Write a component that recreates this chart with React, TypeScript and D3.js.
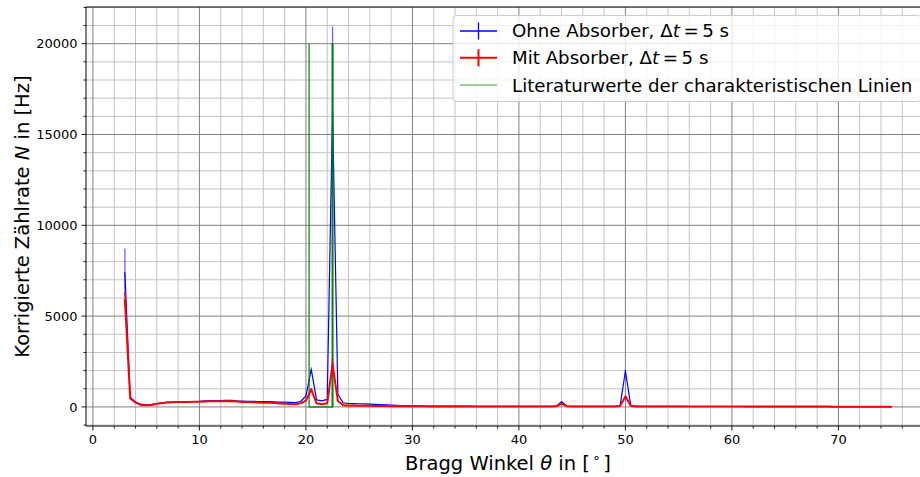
import React from 'react';
import * as d3 from 'd3';

// Measurement grid: Bragg angles in degrees
const angles: number[] = d3.range(3, 75.25, 0.5);

// Corrected count rate without absorber (Hz)
const ohneAbsorber: number[] = [
  7420, 530, 270, 150, 120, 140, 190, 230, 260, 270,
  280, 285, 290, 300, 310, 330, 350, 355, 350, 360,
  360, 335, 320, 310, 305, 300, 295, 290, 280, 270,
  260, 250, 240, 300, 600, 2070, 385, 330, 420, 16300,
  700, 220, 190, 185, 175, 165, 155, 145, 130, 118,
  105, 92, 80, 70, 60, 55, 52, 50, 48, 46,
  45, 44, 42, 41, 40, 39, 38, 37, 36, 36,
  35, 35, 34, 34, 33, 33, 32, 32, 31, 31,
  32, 45, 290, 50, 32, 30, 30, 29, 29, 28,
  28, 28, 30, 60, 1980, 85, 35, 30, 28, 28,
  27, 27, 27, 26, 26, 26, 25, 25, 25, 24,
  24, 24, 24, 23, 23, 23, 23, 22, 22, 22,
  22, 22, 21, 21, 21, 21, 21, 20, 20, 20,
  20, 20, 20, 19, 19, 19, 19, 19, 19, 18,
  18, 18, 18, 18, 18,
];

// Corrected count rate with absorber (Hz)
const mitAbsorber: number[] = [
  5950, 460, 240, 110, 90, 105, 170, 210, 245, 255,
  265, 270, 275, 280, 290, 300, 310, 315, 310, 315,
  320, 295, 275, 265, 255, 245, 235, 225, 210, 195,
  180, 165, 150, 200, 350, 970, 200, 150, 200, 2350,
  330, 90, 80, 75, 70, 65, 60, 55, 50, 46,
  42, 40, 37, 35, 33, 32, 31, 30, 30, 29,
  29, 28, 28, 28, 27, 27, 27, 26, 26, 26,
  26, 25, 25, 25, 25, 24, 24, 24, 24, 24,
  25, 35, 180, 40, 24, 23, 23, 23, 23, 22,
  22, 22, 24, 45, 570, 60, 26, 23, 22, 22,
  22, 21, 21, 21, 21, 21, 20, 20, 20, 20,
  20, 20, 19, 19, 19, 19, 19, 19, 18, 18,
  18, 18, 18, 18, 18, 17, 17, 17, 17, 17,
  17, 17, 17, 16, 16, 16, 16, 16, 16, 16,
  16, 16, 16, 15, 15,
];

// Visible error bars
const errAngles: number[] = [3, 20.5, 22.5, 44, 50];
const ohneErr: number[] = [1300, 120, 4650, 40, 90];
const mitErr: number[] = [400, 70, 330, 25, 40];

// Literature values of characteristic lines (Cu K-beta, K-alpha)
const litAngles: number[] = [20.3, 22.5];
const litHeight = 20000;

const xTicks: number[] = [0, 10, 20, 30, 40, 50, 60, 70];
const yTicks: number[] = [0, 5000, 10000, 15000, 20000];
const xMinor: number[] = d3.range(0, 80, 2);
const yMinor: number[] = d3.range(-1000, 22001, 1000);

const W = 920;
const H = 477;
const L = 86, R = 930, T = 7, B = 426;

const x = d3.scaleLinear().domain([-0.65, 78.6]).range([L, R]);
const y = d3.scaleLinear().domain([-1050, 22020]).range([B, T]);

const FONT = 'DejaVu Sans, sans-serif';

export default function App() {
  const line = d3
    .line<number>()
    .x((_, i) => x(angles[i]))
    .y((d) => y(d));

  const litPath = d3.line<[number, number]>().x((d) => x(d[0])).y((d) => y(d[1]))([
    [litAngles[0], litHeight],
    [litAngles[0], 0],
    [litAngles[1], 0],
    [litAngles[1], litHeight],
  ]) as string;

  const valAt = (arr: number[], a: number) => arr[Math.round((a - 3) * 2)];

  const legendRows = [
    { color: '#0000ff', lw: 1.3, err: true, yc: 31 },
    { color: '#ff0000', lw: 2, err: true, yc: 57.8 },
    { color: '#008000', lw: 1.5, err: false, yc: 85, op: 0.5 },
  ];

  return (
    <svg
      width={W}
      height={H}
      style={{ position: 'absolute', left: 0, top: 0, background: '#fff' }}
      fontFamily={FONT}
    >
      <rect x={0} y={0} width={W} height={H} fill="#fff" />
      <defs>
        <clipPath id="plotclip">
          <rect x={L} y={T} width={R - L} height={B - T} />
        </clipPath>
      </defs>

      {/* minor grid */}
      <g stroke="#c4c4c4" strokeWidth={1}>
        {xMinor.filter((v) => v % 10 !== 0).map((v) => (
          <line key={'xm' + v} x1={x(v)} x2={x(v)} y1={T} y2={B} />
        ))}
        {yMinor.filter((v) => v % 5000 !== 0).map((v) => (
          <line key={'ym' + v} x1={L} x2={R} y1={y(v)} y2={y(v)} />
        ))}
      </g>
      {/* major grid */}
      <g stroke="#808080" strokeWidth={1}>
        {xTicks.map((v) => (
          <line key={'xg' + v} x1={x(v)} x2={x(v)} y1={T} y2={B} />
        ))}
        {yTicks.map((v) => (
          <line key={'yg' + v} x1={L} x2={R} y1={y(v)} y2={y(v)} />
        ))}
      </g>

      <g clipPath="url(#plotclip)">
        {/* blue series */}
        <path d={line(ohneAbsorber) as string} fill="none" stroke="#0000ff" strokeWidth={1.2} strokeLinejoin="round" />
        {errAngles.map((a, i) => {
          const v = valAt(ohneAbsorber, a);
          return (
            <line key={'be' + a} x1={x(a)} x2={x(a)} y1={y(v - ohneErr[i])} y2={y(v + ohneErr[i])}
              stroke="#0000ff" strokeOpacity={0.6} strokeWidth={1.3} />
          );
        })}
        {/* literature lines */}
        <path d={litPath} fill="none" stroke="#008000" strokeOpacity={0.85} strokeWidth={1.4} />
        <line x1={x(litAngles[1])} x2={x(litAngles[1])} y1={y(0)} y2={y(litHeight)} stroke="#008000" strokeOpacity={0.8} strokeWidth={2} />
        {/* red series */}
        <path d={line(mitAbsorber) as string} fill="none" stroke="#ff0000" strokeWidth={2} strokeLinejoin="round" />
        {errAngles.map((a, i) => {
          const v = valAt(mitAbsorber, a);
          return (
            <line key={'re' + a} x1={x(a)} x2={x(a)} y1={y(v - mitErr[i])} y2={y(v + mitErr[i])}
              stroke="#ff0000" strokeOpacity={0.6} strokeWidth={2} />
          );
        })}
      </g>

      {/* spines */}
      <g stroke="#000" strokeWidth={1} fill="none">
        <line x1={L} x2={L} y1={T} y2={B} />
        <line x1={L} x2={R} y1={B} y2={B} />
        <line x1={L} x2={R} y1={T} y2={T} />
        <line x1={R} x2={R} y1={T} y2={B} />
      </g>

      {/* ticks */}
      <g stroke="#000" strokeWidth={0.9}>
        {xTicks.map((v) => (
          <line key={'xt' + v} x1={x(v)} x2={x(v)} y1={B} y2={B + 4.5} />
        ))}
        {xMinor.filter((v) => v % 10 !== 0).map((v) => (
          <line key={'xtm' + v} x1={x(v)} x2={x(v)} y1={B} y2={B + 2.5} />
        ))}
        {yTicks.map((v) => (
          <line key={'yt' + v} x1={L - 4.5} x2={L} y1={y(v)} y2={y(v)} />
        ))}
        {yMinor.filter((v) => v % 5000 !== 0).map((v) => (
          <line key={'ytm' + v} x1={L - 2.5} x2={L} y1={y(v)} y2={y(v)} />
        ))}
      </g>

      {/* tick labels */}
      <g fontSize={13} fill="#000">
        {xTicks.map((v) => (
          <text key={'xl' + v} x={x(v)} y={443.5} textAnchor="middle">{v}</text>
        ))}
        {yTicks.map((v) => (
          <text key={'yl' + v} x={77.5} y={y(v) + 4.7} textAnchor="end">{v}</text>
        ))}
      </g>

      {/* axis labels */}
      <text x={(L + R) / 2} y={470} textAnchor="middle" fontSize={19.5} fill="#000">
        Bragg Winkel <tspan fontStyle="italic">θ</tspan> in [<tspan fontSize={13} dy={-8}>{'\u2009∘\u2009'}</tspan><tspan dy={8}>]</tspan>
      </text>
      <text
        transform={`translate(28.5, ${(T + B) / 2}) rotate(-90)`}
        textAnchor="middle"
        fontSize={19.5}
        fill="#000"
      >
        Korrigierte Zählrate <tspan fontStyle="italic">N</tspan> in [Hz]
      </text>

      {/* legend */}
      <g>
        <rect x={453} y={15.5} width={468.5} height={86} rx={3.6} ry={3.6}
          fill="#fff" fillOpacity={0.8} stroke="#cccccc" strokeWidth={1} />
        {legendRows.map((r, i) => (
          <g key={'lg' + i}>
            <line x1={460} x2={497} y1={r.yc} y2={r.yc} stroke={r.color} strokeWidth={r.lw}
              strokeOpacity={r.op ?? 1} />
            {r.err && (
              <line x1={478.5} x2={478.5} y1={r.yc - 8.5} y2={r.yc + 8.5} stroke={r.color} strokeWidth={r.lw} />
            )}
          </g>
        ))}
        <g fontSize={18.2} fill="#000">
          <text x={512} y={37.3}>Ohne Absorber, Δ<tspan fontStyle="italic">t</tspan>{'\u2009=\u20095 s'}</text>
          <text x={512} y={64.3}>Mit Absorber, Δ<tspan fontStyle="italic">t</tspan>{'\u2009=\u20095 s'}</text>
          <text x={512} y={91.7}>Literaturwerte der charakteristischen Linien</text>
        </g>
      </g>
    </svg>
  );
}
